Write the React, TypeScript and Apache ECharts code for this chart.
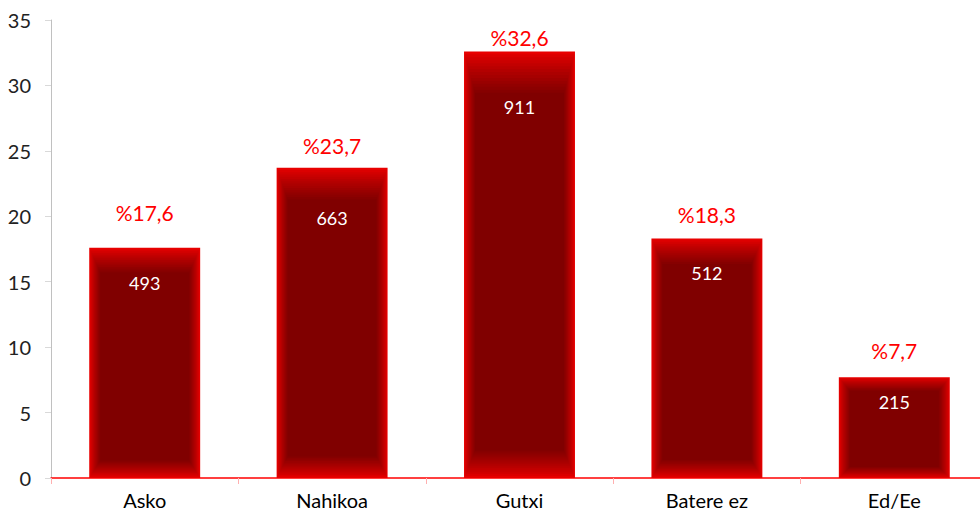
import React, { useEffect, useRef } from "react";
import * as echarts from "echarts";

const categories = ["Asko", "Nahikoa", "Gutxi", "Batere ez", "Ed/Ee"];
const percentages = [17.6, 23.7, 32.6, 18.3, 7.7];
const counts = [493, 663, 911, 512, 215];
const yTicks = { min: 0, max: 35, interval: 5 };

// label placement (style): distance above / below the bar top, px
const pctLabelOffset = [35, 22, 14, 24, 27];
const countLabelOffset = [35, 50, 56, 34, 25];

const FONT = "Lato, 'Open Sans', sans-serif";

function mix(a: number[], b: number[], t: number) {
  const c = a.map((v, i) => Math.round(v + (b[i] - v) * t));
  return `rgb(${c[0]},${c[1]},${c[2]})`;
}

export default function App() {
  const ref = useRef<HTMLDivElement>(null);
  useEffect(() => {
    if (!ref.current) return;
    const chart = echarts.init(ref.current, null, { renderer: "svg" });
    const outer = [232, 0, 0];
    const inner = [128, 0, 0];
    chart.setOption({
      animation: false,
      grid: { left: 51, right: 0, top: 20, bottom: 36 },
      xAxis: {
        type: "category",
        data: categories,
        axisLine: { show: true, lineStyle: { color: "#ff0000", width: 1.5 } },
        axisTick: { show: true, length: 6, lineStyle: { color: "#ffb0b0" } },
        axisLabel: { color: "#000", fontSize: 20, fontFamily: FONT, margin: 12 },
      },
      yAxis: {
        type: "value",
        min: yTicks.min,
        max: yTicks.max,
        interval: yTicks.interval,
        axisLine: { show: true, lineStyle: { color: "#c0c0c0" } },
        axisTick: { show: true, length: 6, lineStyle: { color: "#d9d9d9" } },
        axisLabel: { color: "#222", fontSize: 20, fontFamily: FONT, margin: 20 },
        splitLine: { show: false },
      },
      series: [
        {
          type: "custom",
          data: percentages.map((v, i) => [i, v, counts[i]]),
          encode: { x: 0, y: 1 },
          renderItem: (params: any, api: any) => {
            const idx = api.value(0);
            const val = api.value(1);
            const cnt = api.value(2);
            const top = api.coord([idx, val]);
            const bot = api.coord([idx, 0]);
            const band = api.size([1, 0])[0];
            const w = band * 0.592;
            const x0 = top[0] - w / 2;
            const y0 = top[1];
            const h = bot[1] - top[1];
            const steps = 14;
            const side = 11;
            const topB = Math.max(12, h * 0.085 + 5);
            const botB = Math.max(10, h * 0.05 + 6);
            const children: any[] = [];
            for (let s = 0; s <= steps; s++) {
              const t = s / steps;
              const e = Math.pow(t, 0.8);
              children.push({
                type: "rect",
                shape: {
                  x: x0 + side * t,
                  y: y0 + topB * t,
                  width: w - 2 * side * t,
                  height: h - (topB + botB) * t,
                },
                style: { fill: mix(outer, inner, e) },
              });
            }
            children.push({
              type: "text",
              style: {
                text: "%" + String(val).replace(".", ","),
                x: top[0],
                y: y0 - pctLabelOffset[idx],
                fill: "#ff0000",
                font: `21px ${FONT}`,
                align: "center",
                verticalAlign: "middle",
              },
            });
            children.push({
              type: "text",
              style: {
                text: String(cnt),
                x: top[0],
                y: y0 + countLabelOffset[idx],
                fill: "#ffffff",
                font: `18px ${FONT}`,
                align: "center",
                verticalAlign: "middle",
              },
            });
            return { type: "group", children };
          },
        },
      ],
    });
    return () => chart.dispose();
  }, []);
  return (
    <div
      style={{
        position: "fixed",
        left: 0,
        top: 0,
        width: 980,
        height: 514,
        overflow: "hidden",
        background: "#fff",
      }}
    >
      <div ref={ref} style={{ width: 988, height: 514 }} />
    </div>
  );
}
